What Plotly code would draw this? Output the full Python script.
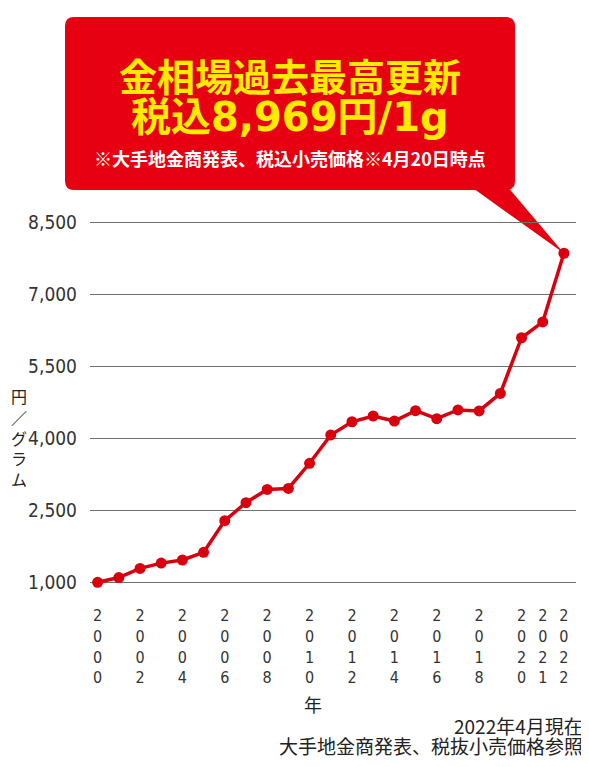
import plotly.graph_objects as go

# gold retail price (yen / gram)
years = list(range(2000, 2023))
price = [1000, 1100, 1290, 1400, 1465, 1625, 2285, 2660, 2935, 2955,
         3480, 4070, 4345, 4465, 4360, 4575, 4410, 4590, 4570, 4935,
         6095, 6425, 7855]

y_ticks = [1000, 2500, 4000, 5500, 7000, 8500]
x_ticks = [2000, 2002, 2004, 2006, 2008, 2010, 2012, 2014, 2016, 2018,
           2020, 2021, 2022]
x_ticktext = ['<br>'.join(str(t)) for t in x_ticks]

callout_lines = ['金相場過去最高更新', '税込8,969円/1g',
                 '※大手地金商発表、税込小売価格※4月20日時点']
y_title = ['円', '／', 'グ', 'ラ', 'ム']
x_title = '年'
note_lines = ['2022年4月現在', '大手地金商発表、税抜小売価格参照']

# the page body adds an 8px margin, so the figure is drawn 8px smaller
OFF = 8
W, H = 589 - OFF, 767 - OFF
# plot area in the reference picture's pixels
L, R, T, B = 90, 576, 210, 590
X_RANGE = [1999.64, 2022.57]
Y_RANGE = [840, 8756]

RED = '#d8000f'
BOX = '#e60012'
YELLOW = '#ffea00'
NUM_FONT = 'Liberation Sans Narrow, DejaVu Sans Condensed, Arial Narrow, sans-serif'
JP_FONT = 'Noto Sans CJK JP'


def px(x, y):
    # reference pixel position -> paper coordinates
    return (x - L) / (R - L), (B - y) / (B - T)


fig = go.Figure()
fig.add_trace(go.Scatter(x=years, y=price, mode='lines+markers',
                         line=dict(color=RED, width=3.5),
                         marker=dict(color=RED, size=11),
                         hoverinfo='skip'))

# callout box with rounded corners
x0, x1, y0, y1, r = 65, 515, 17, 190, 9
box = ''
for cmd, a, b in [('M', x0 + r, y0), ('L', x1 - r, y0)]:
    p = px(a, b)
    box += '%s%.5f,%.5f ' % (cmd, p[0], p[1])
corners = [((x1, y0), (x1, y0 + r), (x1, y1 - r)),
           ((x1, y1), (x1 - r, y1), (x0 + r, y1)),
           ((x0, y1), (x0, y1 - r), (x0, y0 + r)),
           ((x0, y0), (x0 + r, y0), None)]
for c, e, nxt in corners:
    cp, ep = px(*c), px(*e)
    box += 'Q%.5f,%.5f %.5f,%.5f ' % (cp[0], cp[1], ep[0], ep[1])
    if nxt:
        n = px(*nxt)
        box += 'L%.5f,%.5f ' % n
box += 'Z'
fig.add_shape(type='path', path=box, xref='paper', yref='paper',
              fillcolor=BOX, line=dict(width=0), layer='above')

# tail pointing to the last data point
tip_x = (years[-1] - X_RANGE[0]) / (X_RANGE[1] - X_RANGE[0])
tip_y = (price[-1] - Y_RANGE[0]) / (Y_RANGE[1] - Y_RANGE[0])
a1, b1 = px(470, 186)
a2, b2 = px(507, 186)
fig.add_shape(type='path', xref='paper', yref='paper',
              path='M%.5f,%.5f L%.5f,%.5f L%.5f,%.5f Z' % (a1, b1, a2, b2, tip_x, tip_y),
              fillcolor=BOX, line=dict(width=0), layer='between')

cx = px(290, 0)[0]
for text, ypx, size, color, fam in [
        (callout_lines[0], 74, 38, YELLOW, JP_FONT),
        (callout_lines[1], 117, 40, YELLOW, 'DejaVu Sans, ' + JP_FONT),
        (callout_lines[2], 158, 18, 'white', JP_FONT)]:
    fig.add_annotation(x=cx, y=px(0, ypx)[1], xref='paper', yref='paper',
                       text='<b>%s</b>' % text, showarrow=False,
                       xanchor='center', yanchor='middle',
                       font=dict(family=fam, size=size, color=color))

fig.add_annotation(x=px(19, 0)[0], y=px(0, 437)[1], xref='paper', yref='paper',
                   text='<br>'.join(y_title), showarrow=False,
                   xanchor='center', yanchor='middle',
                   font=dict(family=JP_FONT, size=16, color='#222'))
fig.add_annotation(x=px(313, 0)[0], y=px(0, 704)[1], xref='paper', yref='paper',
                   text=x_title, showarrow=False,
                   xanchor='center', yanchor='middle',
                   font=dict(family=JP_FONT, size=18, color='#222'))
for text, ypx in zip(note_lines, [725, 745]):
    fig.add_annotation(x=px(585, 0)[0], y=px(0, ypx)[1], xref='paper', yref='paper',
                       text=text, showarrow=False,
                       xanchor='right', yanchor='middle',
                       font=dict(family=JP_FONT, size=19, color='#222'))

fig.update_xaxes(range=X_RANGE, tickvals=x_ticks, ticktext=x_ticktext,
                 showgrid=False, zeroline=False, showline=False, ticks='',
                 tickangle=0, ticklabelstandoff=14,
                 tickfont=dict(family=NUM_FONT, size=16, color='#333'))
fig.update_yaxes(range=Y_RANGE, tickvals=y_ticks, tickformat=',d',
                 showgrid=True, gridcolor='#707070', gridwidth=1,
                 zeroline=False, showline=False, ticks='',
                 ticklabelstandoff=12,
                 tickfont=dict(family=NUM_FONT, size=19, color='#333'))
fig.update_layout(width=W, height=H, showlegend=False,
                  margin=dict(l=L - OFF, r=W - (R - OFF), t=T - OFF,
                              b=H - (B - OFF), autoexpand=False),
                  plot_bgcolor='white', paper_bgcolor='white')

fig.write_html('out.html')
